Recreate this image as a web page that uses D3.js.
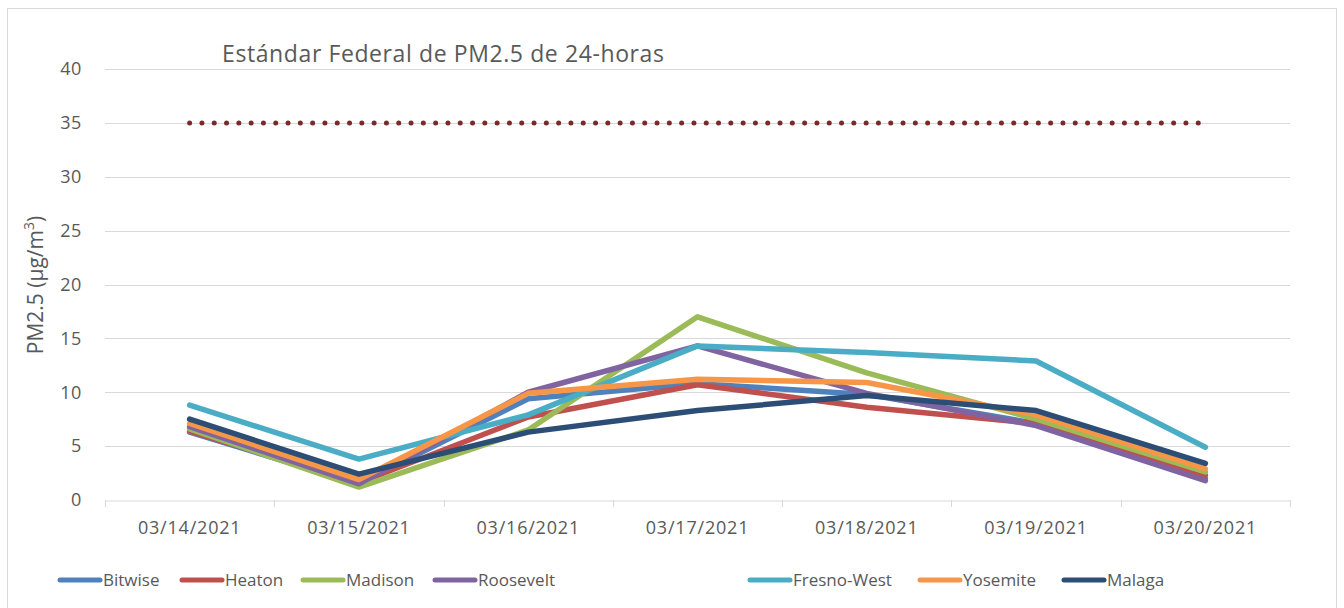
<!DOCTYPE html>
<html><head><meta charset="utf-8">
<script src="https://cdn.jsdelivr.net/npm/d3@7/dist/d3.min.js"></script>
<style>body{margin:0;background:#fff}svg{display:block}text{font-family:"Open Sans",sans-serif;fill:#595959}</style>
</head><body><svg id="c" width="1344" height="608"></svg>
<script>
const categories = ["03/14/2021","03/15/2021","03/16/2021","03/17/2021","03/18/2021","03/19/2021","03/20/2021"];
const seriesNames = ["Bitwise","Heaton","Madison","Roosevelt","Fresno-West","Yosemite","Malaga"];
const bitwise    = [6.3, 1.5, 9.4, 10.8, 9.8, 7.1, 2.0];
const heaton     = [6.4, 1.6, 7.7, 10.7, 8.6, 7.1, 2.3];
const madison    = [6.6, 1.2, 6.5, 17.0, 11.8, 7.5, 2.6];
const roosevelt  = [6.8, 1.5, 10.0, 14.3, 9.9, 6.9, 1.8];
const fresnoWest = [8.8, 3.8, 7.9, 14.3, 13.7, 12.9, 4.9];
const yosemite   = [7.1, 1.9, 9.9, 11.2, 10.9, 7.9, 2.9];
const malaga     = [7.5, 2.4, 6.3, 8.3, 9.7, 8.3, 3.4];
const standard   = [35, 35, 35, 35, 35, 35, 35];
const yTicks = [0,5,10,15,20,25,30,35,40];
const colors = ["#4F81BD","#C0504D","#9BBB59","#8064A2","#4BACC6","#F79646","#2C4D75"];
const seriesValues = [bitwise, heaton, madison, roosevelt, fresnoWest, yosemite, malaga];

const svg = d3.select("#c");
const L = 105, R = 1290, T = 69, B = 500;
svg.append("rect").attr("x",7.5).attr("y",8.5).attr("width",1329).attr("height",620)
  .attr("fill","none").attr("stroke","#d9d9d9").attr("stroke-width",1);

const x = d3.scaleBand().domain(categories).range([L,R]);
const y = d3.scaleLinear().domain([0,40]).range([B,T]);
const cx = d => x(d) + x.bandwidth()/2;

// gridlines
svg.append("g").selectAll("line").data(yTicks.filter(t=>t>0)).join("line")
  .attr("x1",L).attr("x2",R).attr("y1",d=>Math.round(y(d))+0.5).attr("y2",d=>Math.round(y(d))+0.5)
  .attr("stroke","#d9d9d9").attr("stroke-width",1);

// y axis labels
const ya = svg.append("g").attr("transform",`translate(${L},0)`)
  .call(d3.axisLeft(y).tickValues(yTicks).tickSize(0).tickPadding(23));
ya.select(".domain").remove();
ya.selectAll("text").style("font-size","18px").style("letter-spacing","0.6px").attr("fill","#595959");

// x axis
const xa = svg.append("g").attr("transform",`translate(0,${Math.round(B)+0.5})`)
  .call(d3.axisBottom(x).tickSize(0).tickPadding(21));
xa.select(".domain").attr("stroke","#d9d9d9");
xa.selectAll("text").style("font-size","18px").style("letter-spacing","0.8px").attr("fill","#595959");
const bounds = categories.map(c=>x(c)).concat([R]);
svg.append("g").selectAll("line").data(bounds).join("line")
  .attr("x1",d=>Math.round(d)+0.5).attr("x2",d=>Math.round(d)+0.5)
  .attr("y1",B).attr("y2",B+7).attr("stroke","#d9d9d9");

// standard dotted line
const line = d3.line().x((d,i)=>cx(categories[i])).y(d=>y(d));
svg.append("path").datum(standard).attr("d",line).attr("fill","none")
  .attr("stroke","#7B2A2A").attr("stroke-width",5).attr("stroke-linecap","round")
  .attr("stroke-dasharray","0,12.3");

// series
seriesValues.forEach((vals,k)=>{
  svg.append("path").datum(vals).attr("d",line).attr("fill","none")
    .attr("stroke",colors[k]).attr("stroke-width",5.5)
    .attr("stroke-linejoin","round").attr("stroke-linecap","round");
});

// title
svg.append("text").attr("x",222).attr("y",62).style("font-size","23px").style("letter-spacing","0.6px")
  .text("Estándar Federal de PM2.5 de 24-horas");

// y label
svg.append("text").attr("transform","translate(43,285) rotate(-90)").attr("text-anchor","middle")
  .style("font-size","21px")
  .html('PM2.5 (µg/m<tspan baseline-shift="super" font-size="14px">3</tspan>)');

// legend
const legX = [58,180,301,433,748,918,1062];
const lg = svg.append("g");
seriesNames.forEach((n,k)=>{
  lg.append("line").attr("x1",legX[k]+2).attr("x2",legX[k]+42).attr("y1",580).attr("y2",580)
    .attr("stroke",colors[k]).attr("stroke-width",5).attr("stroke-linecap","round");
  lg.append("text").attr("x",legX[k]+45).attr("y",586).style("font-size","17px").text(n);
});
</script></body></html>
